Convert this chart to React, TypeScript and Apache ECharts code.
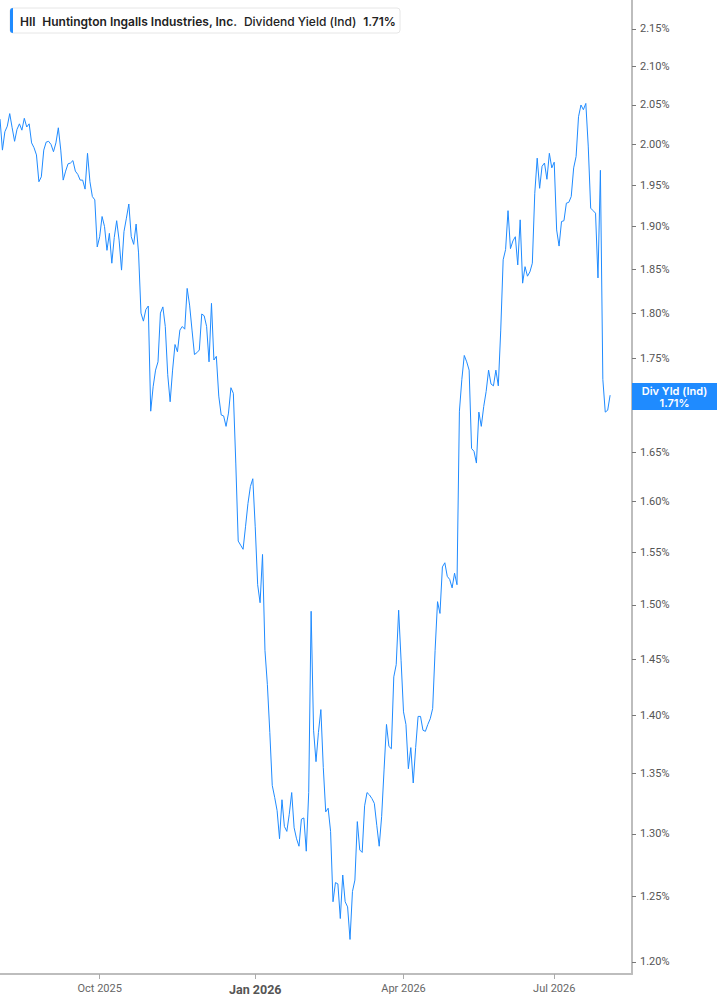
import React, { useEffect, useRef } from "react";
import * as echarts from "echarts";

// trading calendar (weekdays minus NYSE holidays)
const startDate = "2025-08-04";
const holidays = [
  "2025-09-01", "2025-11-27", "2025-12-25", "2026-01-01", "2026-01-19",
  "2026-02-16", "2026-04-03", "2026-05-25", "2026-06-19", "2026-07-03",
];
const axisSlots = 261; // axis runs a few days past the last quote

// HII indicated dividend yield, %
const yieldValues = [
  2.032, 1.993, 2.016, 2.023, 2.039, 2.021, 2.004, 2.019, 2.026, 2.018,
  2.033, 2.022, 2.026, 2.002, 1.996, 1.987, 1.954, 1.960, 1.993, 2.003,
  2.004, 2.000, 1.991, 2.002, 2.021, 1.993, 1.956, 1.967, 1.976, 1.977,
  1.980, 1.967, 1.963, 1.956, 1.956, 1.945, 1.989, 1.954, 1.936, 1.932,
  1.876, 1.888, 1.912, 1.900, 1.872, 1.892, 1.857, 1.887, 1.907, 1.884,
  1.849, 1.894, 1.910, 1.927, 1.888, 1.879, 1.903, 1.869, 1.800, 1.791,
  1.804, 1.808, 1.693, 1.719, 1.737, 1.746, 1.800, 1.807, 1.785, 1.732,
  1.703, 1.737, 1.765, 1.757, 1.781, 1.785, 1.782, 1.828, 1.809, 1.781,
  1.754, 1.756, 1.759, 1.799, 1.797, 1.785, 1.746, 1.811, 1.748, 1.752,
  1.709, 1.689, 1.688, 1.677, 1.691, 1.718, 1.712, 1.639, 1.561, 1.557,
  1.553, 1.575, 1.598, 1.615, 1.623, 1.575, 1.519, 1.502, 1.548, 1.458,
  1.427, 1.385, 1.340, 1.330, 1.319, 1.296, 1.328, 1.306, 1.302, 1.316,
  1.334, 1.305, 1.296, 1.290, 1.312, 1.313, 1.286, 1.334, 1.494, 1.387,
  1.360, 1.385, 1.405, 1.355, 1.318, 1.321, 1.302, 1.246, 1.261, 1.260,
  1.233, 1.267, 1.246, 1.242, 1.217, 1.254, 1.263, 1.310, 1.287, 1.285,
  1.323, 1.334, 1.332, 1.329, 1.325, 1.307, 1.290, 1.314, 1.353, 1.392,
  1.373, 1.371, 1.434, 1.445, 1.495, 1.449, 1.403, 1.392, 1.354, 1.372,
  1.342, 1.372, 1.399, 1.399, 1.387, 1.386, 1.392, 1.397, 1.406, 1.458,
  1.503, 1.492, 1.536, 1.540, 1.527, 1.524, 1.516, 1.530, 1.519, 1.693,
  1.727, 1.753, 1.746, 1.737, 1.654, 1.651, 1.639, 1.692, 1.677, 1.698,
  1.714, 1.737, 1.722, 1.720, 1.737, 1.720, 1.781, 1.861, 1.873, 1.919,
  1.874, 1.883, 1.888, 1.855, 1.908, 1.834, 1.853, 1.842, 1.847, 1.857,
  1.940, 1.983, 1.946, 1.973, 1.977, 1.957, 1.989, 1.971, 1.978, 1.896,
  1.877, 1.906, 1.907, 1.928, 1.929, 1.936, 1.971, 1.985, 2.035, 2.050,
  2.044, 2.052, 1.998, 1.922, 1.919, 1.916, 1.840, 1.968, 1.727, 1.692,
  1.694, 1.710,
];

const yTicks = [
  1.2, 1.25, 1.3, 1.35, 1.4, 1.45, 1.5, 1.55, 1.6, 1.65,
  1.7, 1.75, 1.8, 1.85, 1.9, 1.95, 2.0, 2.05, 2.1, 2.15,
];
// 1.70% sits under the last-value badge, so it gets a tick but no label
const yLabelTicks = yTicks.filter((t) => t !== 1.7);
const yRange = [1.191, 2.189];
const quarterMonths = [0, 3, 6, 9];
const monthNames = ["Jan", "Feb", "Mar", "Apr", "May", "Jun", "Jul", "Aug", "Sep", "Oct", "Nov", "Dec"];

const lineBlue = "#1f8bff";

function tradingDays(start: string, count: number, skip: string[]) {
  const out: string[] = [];
  const d = new Date(start + "T00:00:00Z");
  while (out.length < count) {
    const day = d.getUTCDay();
    const iso = d.toISOString().slice(0, 10);
    if (day !== 0 && day !== 6 && !skip.includes(iso)) out.push(iso);
    d.setUTCDate(d.getUTCDate() + 1);
  }
  return out;
}

const App: React.FC = () => {
  const chartRef = useRef<HTMLDivElement>(null);

  useEffect(() => {
    if (!chartRef.current) return;
    const chart = echarts.init(chartRef.current, null, { renderer: "svg" });

    const dates = tradingDays(startDate, axisSlots, holidays);
    const monthOf = (s: string) => Number(s.slice(5, 7)) - 1;
    const isQuarterStart = (i: number) =>
      i > 0 && monthOf(dates[i]) !== monthOf(dates[i - 1]) && quarterMonths.includes(monthOf(dates[i]));
    const last = yieldValues[yieldValues.length - 1];

    const option = {
      animation: false,
      graphic: [
        {
          type: "rect",
          shape: { x: 10, y: 8, width: 390, height: 25, r: 3 },
          style: { fill: "#fff", stroke: "#e6e6e6", lineWidth: 1 },
        },
        {
          type: "rect",
          shape: { x: 10, y: 8, width: 3, height: 25, r: [3, 0, 0, 3] },
          style: { fill: lineBlue },
        },
        {
          type: "text",
          x: 20,
          y: 21,
          style: {
            text: "{b|HII}  {b|Huntington Ingalls Industries, Inc.}  {n|Dividend Yield (Ind)}  {b|1.71%}",
            verticalAlign: "middle",
            rich: {
              b: { fontFamily: "Inter", fontSize: 12, fontWeight: 600, fill: "#222" },
              n: { fontFamily: "Inter", fontSize: 12, fontWeight: 500, fill: "#222" },
            },
          },
        },
      ],
      grid: { left: 0, right: 85, top: 0, bottom: 31 },
      xAxis: {
        type: "category",
        data: dates,
        boundaryGap: false,
        axisLine: { lineStyle: { color: "#bdbdbd", width: 2 } },
        axisTick: { interval: (i: number) => isQuarterStart(i), length: 5, lineStyle: { color: "#aaa" } },
        axisLabel: {
          interval: (i: number) => isQuarterStart(i),
          margin: 9,
          fontFamily: "Roboto",
          fontSize: 11,
          color: "#666",
          formatter: (v: string) => {
            const m = monthOf(v);
            const txt = `${monthNames[m]} ${v.slice(0, 4)}`;
            return m === 0 ? `{b|${txt}}` : txt;
          },
          rich: { b: { fontFamily: "Roboto", fontSize: 12.5, fontWeight: "bold", color: "#555" } },
        },
        splitLine: { show: false },
      },
      yAxis: {
        type: "value",
        position: "right",
        min: Math.log(yRange[0]),
        max: Math.log(yRange[1]),
        axisLine: { show: true, lineStyle: { color: "#bdbdbd", width: 2 } },
        axisTick: { show: true, length: 4, customValues: yTicks.map(Math.log), lineStyle: { color: "#777" } },
        axisLabel: {
          customValues: yLabelTicks.map(Math.log),
          margin: 8,
          fontFamily: "Roboto",
          fontSize: 11,
          color: "#555",
          formatter: (v: number) => Math.exp(v).toFixed(2) + "%",
        },
        splitLine: { show: false },
      },
      series: [
        {
          type: "line",
          data: yieldValues.map((v) => Math.log(v)),
          showSymbol: false,
          symbol: "none",
          lineStyle: { color: lineBlue, width: 1 },
          markLine: {
            silent: true,
            symbol: "none",
            z: 10,
            lineStyle: { color: "rgba(0,0,0,0)", width: 0 },
            data: [{ yAxis: Math.log(last) }],
            label: {
              show: true,
              position: "end",
              distance: 0,
              offset: [0, 7],
              backgroundColor: lineBlue,
              padding: [2, 7, 1, 7],
              formatter: `{a|Div Yld (Ind)}\n{a|${last.toFixed(2)}%}`,
              rich: {
                a: {
                  width: 71,
                  align: "center",
                  color: "#fff",
                  fontFamily: "Inter",
                  fontSize: 11,
                  fontWeight: 600,
                  lineHeight: 12,
                },
              },
            },
          },
        },
      ],
    };

    chart.setOption(option as any);
    return () => {
      chart.dispose();
    };
  }, []);

  return (
    <div
      ref={chartRef}
      style={{ position: "absolute", left: 0, top: 0, width: "717px", height: "1005px" }}
    />
  );
};

export default App;
